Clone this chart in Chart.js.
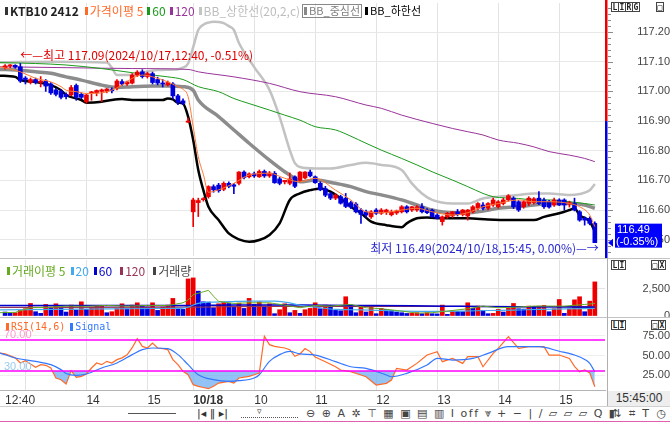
<!DOCTYPE html>
<html><head><meta charset="utf-8">
<script src="https://cdn.jsdelivr.net/npm/chart.js@4.4.1/dist/chart.umd.min.js"></script>
<style>
*{box-sizing:border-box}
html,body{margin:0;padding:0;background:#fff;}
#wrap{position:relative;width:670px;height:422px;overflow:hidden;background:#fff;font-family:"Noto Sans CJK KR","Noto Sans",sans-serif;}
.cv{position:absolute;left:0;width:670px;}
.abs{position:absolute;white-space:nowrap;}
.lg{position:absolute;white-space:nowrap;font-size:11px;line-height:13px;height:13px;display:flex;align-items:center;}
.mk{display:inline-block;width:3px;height:8px;margin-right:2px;margin-left:4px;}
.btn{position:absolute;font:bold 8px "DejaVu Sans Mono",monospace;color:#222;display:flex;}
.btn span{border:1px solid #444;width:8px;height:10px;line-height:9px;text-align:center;margin-right:-1px;background:#fff}
.hl{position:absolute;left:0;width:670px;height:1px;background:#c4c4c4;}
</style></head><body>
<div id="wrap">
<div class="cv" style="top:0;height:258px"><canvas id="cMain"></canvas></div>
<div class="cv" style="top:258px;height:60px"><canvas id="cVol"></canvas></div>
<div class="cv" style="top:318px;height:88px"><canvas id="cRsi"></canvas></div>

<div class="hl" style="top:258px"></div>
<div class="hl" style="top:317px"></div>
<div class="hl" style="top:406px;background:#d0d0d0"></div>
<div class="abs" style="left:607px;top:258px;width:1px;height:148px;background:#b0b0b0"></div>
<div class="abs" style="left:608px;top:391px;width:62px;height:15px;background:#eeeeee;font:12px 'Liberation Sans',sans-serif;color:#333;text-align:center;line-height:15px">15:45:00</div>

<!-- top legend -->
<div class="lg" style="left:1px;top:4px;font-size:12px">
 <i class="mk" style="background:#333"></i><b style="color:#222;font-weight:600">KTB10 2412</b>
 <i class="mk" style="background:#ff6a2a;margin-left:6px"></i><span style="color:#ff6a2a">가격이평 5</span>
 <i class="mk" style="background:#1a9a1a"></i><span style="color:#1a9a1a">60</span>
 <i class="mk" style="background:#993399"></i><span style="color:#993399">120</span>
 <i class="mk" style="background:#c4c4c4"></i><span style="color:#bdbdbd">BB_상한선(20,2,c)</span>
 <span style="border:1px solid #888;margin-left:2px;padding:0 1px 0 0;display:flex;align-items:center;height:14px;font-size:11px"><i class="mk" style="background:#888;margin-left:1px"></i><span style="color:#808080">BB_중심선</span></span>
 <i class="mk" style="background:#000;margin-left:3px"></i><span style="color:#000;font-size:11px">BB_하한선</span>
</div>
<div class="btn" style="left:611px;top:2px"><span>L</span><span>I</span><span>R</span><span>G</span></div>
<div class="btn" style="left:656px;top:2px"><span>□</span></div>

<!-- volume legend -->
<div class="lg" style="left:3px;top:264px;font-size:12px">
 <i class="mk" style="background:#66aa22"></i><span style="color:#66aa22">거래이평 5</span>
 <i class="mk" style="background:#44aaee;margin-left:5px"></i><span style="color:#44aaee">20</span>
 <i class="mk" style="background:#0000cc;margin-left:5px"></i><span style="color:#0000cc">60</span>
 <i class="mk" style="background:#993355;margin-left:8px"></i><span style="color:#993355">120</span>
 <i class="mk" style="background:#444;margin-left:8px"></i><span style="color:#444">거래량</span>
</div>
<div class="btn" style="left:611px;top:260px"><span>L</span><span>I</span></div>
<div class="btn" style="left:651px;top:260px"><span>□</span><span>X</span></div>

<!-- rsi legend -->
<div class="lg" style="left:2px;top:320px;font:10px 'DejaVu Sans Mono',monospace">
 <i class="mk" style="background:#ff6a2a"></i><span style="color:#ff6a2a">RSI(14,6)</span>
 <i class="mk" style="background:#3377ff;margin-left:5px"></i><span style="color:#3377ff">Signal</span>
</div>
<div class="abs" style="left:4px;top:328px;font:11px 'Liberation Sans',sans-serif;color:#ff99cc">70.00</div>
<div class="abs" style="left:4px;top:360px;font:11px 'Liberation Sans',sans-serif;color:#99ccee">30.00</div>
<div class="btn" style="left:611px;top:320px"><span>L</span><span>I</span></div>
<div class="btn" style="left:651px;top:320px"><span>□</span><span>X</span></div>

<!-- toolbar -->
<div class="abs" style="left:128px;top:413px;width:48px;height:1px;background:#555"></div>
<div class="abs" style="left:197px;top:406px;font:11px 'DejaVu Sans',sans-serif;color:#333;line-height:15px">|◂ ‖ ▸|</div>
<div class="abs" style="left:241px;top:409px;width:57px;height:9px;border-bottom:1px dotted #555"></div>
<div class="abs" style="left:257px;top:406px;font:9px 'DejaVu Sans',sans-serif;color:#333">▿</div>
<div class="abs" style="left:306px;top:406px;font:11px 'DejaVu Sans',sans-serif;color:#444;line-height:15px;letter-spacing:1.5px">⊖ ⊕ A ✲ ⊤ ▦ ▣ ▤ ▥ I off ⩔ + − | / ▱ ▱ ▱ Q ▮</div>
<div class="abs" style="left:612px;top:406px;font:11px 'DejaVu Sans',sans-serif;color:#444;line-height:15px;letter-spacing:2px">⇅ ⌗ T ◷</div>
<div class="abs" style="left:0;top:421px;width:670px;height:1px;background:#e060b0"></div>
</div>

<script>
// ---------- axis / label data ----------
const priceTicks = [116.50,116.60,116.70,116.80,116.90,117.00,117.10,117.20];
const volTicks = [0, 2500];
const rsiTicks = [25, 50, 75];
const rsiLevels = [70, 30];
const tickIdx = [0,4,16,28,37,49,61,73,85,97,109];
const tickLabels = ['12:40','','14','15','10/18','10','11','12','13','14','15'];
const prevClose = 116.90;
const lastChange = '-0.35%';
const hiText = ['2024/10/17,12:40', '-0.51%'];
const loText = ['2024/10/18,15:45', '0.00%'];

// ---------- candles (5-minute bars) ----------
const open = [117.080,117.086,117.088,117.083,117.045,117.030,117.040,117.030,117.035,117.025,117.005,117.000,116.990,116.988,117.020,116.990,116.965,116.995,116.995,117.000,117.000,117.006,117.012,117.033,117.025,117.028,117.055,117.066,117.050,117.060,117.040,117.028,117.022,117.025,116.985,116.968,116.896,
116.594,116.625,116.635,116.645,116.679,116.684,116.670,116.690,116.685,116.690,116.728,116.712,116.722,116.712,116.730,116.715,116.724,116.705,116.695,116.690,116.712,116.700,116.708,116.728,116.712,116.690,116.672,116.655,116.640,116.645,116.640,116.625,116.620,116.600,116.594,116.577,116.600,116.589,116.592,116.584,116.590,116.594,116.611,116.600,116.600,116.611,116.600,116.600,116.583,116.561,116.577,116.580,116.594,116.585,116.580,116.594,116.606,116.617,116.606,116.617,116.611,116.622,116.634,116.640,116.628,116.611,116.622,116.625,116.640,116.634,116.628,116.617,116.634,116.634,116.620,116.622,116.594,116.572,116.572,116.555];
const high = [117.090,117.090,117.090,117.094,117.050,117.045,117.045,117.050,117.040,117.030,117.010,117.005,116.995,117.020,117.025,116.995,116.990,117.000,117.005,117.008,117.010,117.012,117.040,117.040,117.035,117.060,117.070,117.073,117.065,117.065,117.048,117.040,117.035,117.030,116.990,116.975,116.910,
116.640,116.640,116.642,116.682,116.685,116.690,116.695,116.695,116.690,116.730,116.732,116.725,116.728,116.735,116.735,116.730,116.730,116.710,116.700,116.725,116.715,116.730,116.730,116.735,116.715,116.695,116.680,116.660,116.655,116.650,116.656,116.630,116.625,116.605,116.600,116.598,116.605,116.605,116.603,116.600,116.600,116.615,116.615,116.612,116.615,116.622,116.605,116.603,116.588,116.580,116.592,116.595,116.602,116.602,116.602,116.615,116.625,116.625,116.625,116.640,116.632,116.640,116.652,116.645,116.632,116.632,116.645,116.642,116.662,116.640,116.633,116.640,116.638,116.638,116.630,116.640,116.598,116.577,116.577,116.560];
const low = [117.075,117.080,117.078,117.030,117.025,117.025,117.025,117.015,117.000,116.990,116.985,116.975,116.975,116.985,116.970,116.975,116.960,116.970,116.985,116.965,116.995,116.995,117.005,117.020,117.020,117.025,117.050,117.045,117.045,117.025,117.022,117.015,117.018,116.975,116.955,116.955,116.895,
116.544,116.578,116.630,116.640,116.660,116.660,116.665,116.675,116.655,116.685,116.705,116.708,116.710,116.710,116.710,116.710,116.690,116.685,116.688,116.685,116.675,116.695,116.705,116.712,116.690,116.665,116.645,116.635,116.635,116.620,116.608,116.605,116.590,116.555,116.575,116.572,116.585,116.585,116.585,116.580,116.585,116.590,116.590,116.595,116.595,116.590,116.588,116.575,116.570,116.549,116.572,116.575,116.580,116.580,116.566,116.590,116.600,116.600,116.600,116.612,116.606,116.617,116.630,116.605,116.595,116.606,116.615,116.620,116.618,116.605,116.606,116.612,116.615,116.600,116.610,116.597,116.562,116.549,116.550,116.490];
const close = [117.086,117.088,117.082,117.035,117.040,117.040,117.030,117.035,117.018,116.995,116.990,116.980,116.982,117.013,116.980,116.980,116.988,116.998,117.003,117.005,117.008,117.002,117.035,117.025,117.032,117.055,117.065,117.050,117.060,117.030,117.028,117.025,117.030,116.985,116.963,116.960,116.900,
116.634,116.632,116.638,116.679,116.668,116.665,116.690,116.680,116.680,116.728,116.710,116.722,116.715,116.730,116.715,116.725,116.692,116.690,116.700,116.705,116.680,116.728,116.728,116.715,116.692,116.668,116.650,116.640,116.650,116.623,116.612,116.610,116.594,116.585,116.583,116.594,116.589,116.600,116.600,116.594,116.597,116.611,116.594,116.611,116.611,116.594,116.591,116.577,116.572,116.577,116.589,116.594,116.585,116.600,116.600,116.611,116.622,116.606,116.622,116.634,116.628,116.634,116.648,116.611,116.600,116.628,116.640,116.638,116.622,116.611,116.610,116.634,116.617,116.617,116.625,116.600,116.566,116.566,116.555,116.490];
const volume = [360,240,300,510,660,1140,390,240,1050,810,1110,840,360,990,540,1290,600,810,900,960,300,390,690,1110,660,990,1200,960,810,1200,510,810,990,1600,660,600,3370,
3460,2260,1290,1260,750,1110,1230,1140,900,1170,690,1600,1050,1290,900,1110,210,570,1110,300,510,240,570,690,1200,660,990,840,510,480,1750,990,300,810,360,900,210,690,600,510,360,300,230,260,300,210,300,210,190,990,150,450,420,400,1200,690,900,510,210,240,600,360,690,1140,660,630,900,870,900,960,390,660,1500,240,660,1470,1750,390,1350,3100];

// ---------- price overlays (bar index, value) ----------
const ma5X = [-1,3,6,9,11,12,14,16,19,21,23,25,27,29,32,34,35,36,37,38,39,40,42,45,48,52,55,58,61,65,68,71,74,78,81,84,88,91,94,97,101,104,107,111,113,115,116];
const ma5Y = [117.083,117.066,117.044,117.032,117.016,117.004,116.999,116.993,116.995,117.004,117.021,117.044,117.055,117.049,117.032,117.016,117.007,116.982,116.881,116.780,116.720,116.660,116.668,116.690,116.718,116.724,116.707,116.695,116.707,116.667,116.634,116.594,116.591,116.600,116.606,116.594,116.583,116.591,116.611,116.622,116.634,116.628,116.628,116.622,116.611,116.583,116.544];
const ma60X = [-1,6,12,19,25,32,35,38,42,45,48,52,55,58,61,65,68,71,74,78,81,84,88,91,94,96,101,104,107,111,114,116];
const ma60Y = [117.097,117.094,117.089,117.077,117.063,117.049,117.040,117.016,116.999,116.976,116.959,116.937,116.920,116.903,116.881,116.870,116.849,116.825,116.802,116.774,116.752,116.729,116.701,116.679,116.656,116.645,116.639,116.634,116.634,116.628,116.622,116.617];
const ma120X = [-1,12,25,36,38,45,52,58,65,71,74,78,84,88,91,94,97,101,104,107,111,114,116];
const ma120Y = [117.083,117.080,117.077,117.074,117.066,117.049,117.027,116.999,116.982,116.954,116.943,116.920,116.892,116.875,116.864,116.853,116.836,116.825,116.813,116.797,116.785,116.774,116.763];
const bbUpX = [-1,10,20,21,22,25,26,30,34,35,36,37,38,39,40,41,42,43,44,45,46,49,52,54,56,57,58,61,64,68,71,74,78,80,82,84,88,91,94,97,101,104,107,111,113,115,116];
const bbUpY = [117.098,117.100,117.097,117.080,117.055,117.055,117.060,117.072,117.075,117.080,117.094,117.149,117.207,117.225,117.232,117.235,117.234,117.230,117.220,117.207,117.163,117.082,117.005,116.914,116.802,116.758,116.745,116.740,116.740,116.752,116.759,116.752,116.735,116.690,116.656,116.634,116.622,116.622,116.639,116.645,116.651,116.656,116.656,116.651,116.654,116.667,116.688];
const bbMidX = [-1,2,6,9,12,15,19,22,25,29,32,35,37,38,42,45,48,52,55,57,58,61,65,68,71,74,78,81,84,88,91,94,97,101,104,107,111,114,116];
const bbMidY = [117.074,117.072,117.066,117.061,117.049,117.038,117.021,117.013,117.016,117.018,117.018,117.016,117.004,116.971,116.915,116.870,116.825,116.768,116.729,116.707,116.695,116.701,116.690,116.679,116.662,116.651,116.634,116.617,116.600,116.591,116.591,116.597,116.606,116.611,116.617,116.622,116.622,116.617,116.606];
const bbLowX = [-1,2,3,6,9,11,12,15,16,19,21,23,25,29,31,32,33,34,35,36,37,38,39,40,42,44,46,48,50,52,54,56,58,60,62,64,66,68,70,72,75,78,79,81,83,86,91,95,99,104,106,109,111,112,113,115,116];
const bbLowY = [117.053,117.049,117.038,117.032,117.021,117.004,116.988,116.971,116.962,116.965,116.971,116.974,116.971,116.971,116.971,116.976,116.973,116.962,116.959,116.915,116.836,116.735,116.667,116.611,116.566,116.521,116.501,116.493,116.499,116.516,116.555,116.634,116.656,116.667,116.673,116.662,116.639,116.611,116.589,116.561,116.549,116.542,116.555,116.572,116.575,116.572,116.572,116.568,116.566,116.566,116.577,116.589,116.600,116.606,116.583,116.561,116.527];

// ---------- volume averages ----------
const vma5X = [-1,2,5,9,12,16,20,24,28,32,35,36,37,38,39,40,41,42,45,48,52,55,58,61,64,68,71,74,78,81,84,87,91,94,97,101,104,107,110,114,116];
const vma5Y = [300,330,750,800,900,880,960,900,960,950,1200,1450,1940,2070,2200,2330,1800,1330,1140,1200,1200,990,750,960,900,1050,750,660,450,260,300,450,660,900,750,810,900,900,900,1050,1140];
const vma20X = [-1,15,30,35,36,37,38,40,44,48,53,56,58,61,65,70,78,85,90,95,100,105,110,116];
const vma20Y = [560,620,680,720,800,1000,1150,1260,1300,1350,1350,1200,960,810,600,560,450,420,450,500,540,600,640,700];
const vma60X = [-1,36,45,58,70,80,90,100,116];
const vma60Y = [960,960,1000,990,960,930,880,830,800];
const vma120X = [-1,36,50,80,116];
const vma120Y = [780,800,880,880,850];

// ---------- RSI ----------
const rsiX = [-1,0,2,3,4,5,6,7,8,9,10,11,12,13,14,15,16,17,18,19,20,21,22,23,24,25,26,27,28,29,30,31,32,33,34,35,36,37,38,39,40,41,42,44,45,46,48,49,50,51,52,53,55,56,57,58,59,60,61,63,65,66,68,70,71,73,75,76,77,79,81,83,85,86,88,90,91,93,94,96,97,99,101,103,106,107,109,111,112,113,114,115,116];
const rsiY = [53.2,52,47,40.4,43.4,39.1,34.8,38.3,37.4,34,21.2,19,13.5,30.6,22,23.3,26.3,34,40.4,38.3,42.5,40.4,44.7,47,51,60,71.6,61.7,59.6,66,59.6,58.8,57.5,44.7,38.3,29.7,25.4,12.6,10.5,9,7.5,10.5,14.7,16.9,14.7,21.2,23.3,25.4,27.6,74.6,63.9,61.7,59.6,57.5,49,52,59,55,48,42,35.6,31.4,29.3,25,22.8,12.2,14.3,18.6,33.5,31.4,39.9,50.6,54.9,42.1,46.3,39.9,48.5,48.5,35.6,52.8,59.2,74.1,59.2,61.3,61.3,50.6,50.6,46.3,36,29,31.4,27.6,10];
const sigX = [-1,2,6,9,11,12,14,16,19,22,25,27,29,32,34,36,38,41,44,46,49,50,52,54,56,58,61,65,68,71,75,76,79,83,85,88,92,95,99,105,109,112,114,115,116];
const sigY = [53.2,46.8,42.5,38.3,31.9,27,24.6,26.3,34,40.4,51.1,57.5,59.6,58.8,51.1,38.3,25.4,19,16.9,17.7,21.2,25.4,42.5,51.1,55.3,52,50.6,42.1,35.6,33.5,25,22.8,27.1,37.8,46.3,44.2,46.3,52.8,61.3,61.3,55.5,50.6,45,40,29];

// ---------- chart construction ----------
const UP = '#ee0000', DOWN = '#0000dd';
Chart.defaults.font.family = '"Liberation Sans", Arial, sans-serif';
Chart.defaults.animation = false;
Chart.defaults.plugins.legend.display = false;
Chart.defaults.plugins.tooltip.enabled = false;
Chart.defaults.elements.point.radius = 0;

const pts = (xs, ys) => xs.map((x, i) => ({x, y: ys[i]}));
const lineDs = (xs, ys, color, width, order, extra) => Object.assign({
  type: 'line', data: pts(xs, ys), borderColor: color, borderWidth: width,
  pointRadius: 0, fill: false, order, cubicInterpolationMode: 'monotone'
}, extra || {});
const flatDs = (v, color, order) => ({type:'line', data:[{x:-1,y:v},{x:118,y:v}], borderColor: color, borderWidth: 1.5, pointRadius:0, fill:false, order});
const noPad = s => { s.paddingTop = 0; s.paddingBottom = 0; s.paddingLeft = 0; s.paddingRight = 0; };

function xScale(showLabels) {
  return {
    type: 'linear', min: -1, max: 118, offset: false,
    afterBuildTicks: s => { s.ticks = tickIdx.map(v => ({value: v})); },
    afterFit: s => { s.height = showLabels ? 16 : 0; noPad(s); },
    grid: { offset: false, drawTicks: false,
      color: c => (c.tick && c.tick.value === tickIdx[0]) ? 'rgba(0,0,0,0)' : '#e3e3e3' },
    border: { display: showLabels, color: '#b4b4b4' },
    ticks: { display: showLabels, autoSkip: false, maxRotation: 0, align: 'start', padding: 3, color: '#333',
      font: c => ({ size: 12, weight: (c.tick && tickLabels[tickIdx.indexOf(c.tick.value)] === '10/18') ? 'bold' : 'normal' }),
      callback: v => { const k = tickIdx.indexOf(v); return k >= 0 ? tickLabels[k] : ''; } }
  };
}
function yScale(min, max, ticks, fmt, padding, gridColor) {
  return {
    position: 'right', min, max,
    afterBuildTicks: s => { s.ticks = ticks.map(v => ({value: v})); },
    afterFit: s => { s.width = 65; noPad(s); },
    grid: { color: gridColor, drawTicks: false },
    border: { display: false },
    ticks: { padding, crossAlign: 'far', color: '#444', font: { size: 11 }, callback: fmt }
  };
}

// main chart decorations
const mainDecor = {
  id: 'mainDecor',
  afterDatasetsDraw(chart) {
    const {ctx, chartArea: a, scales: {x, y}} = chart;
    ctx.save();
    const yp = y.getPixelForValue(prevClose);
    ctx.fillStyle = UP; ctx.fillRect(a.right, 0, 2.5, yp);
    ctx.fillStyle = DOWN; ctx.fillRect(a.right, yp, 2.5, chart.height - yp);
    ctx.strokeStyle = '#8a8a8a'; ctx.lineWidth = 1;
    for (let k = Math.ceil(y.min * 50); k <= Math.floor(y.max * 50); k++) {
      const py = Math.round(y.getPixelForValue(k / 50)) + 0.5;
      const len = (k % 5 === 0) ? 5 : 3;
      ctx.beginPath(); ctx.moveTo(a.right + 3, py); ctx.lineTo(a.right + 3 + len, py); ctx.stroke();
    }
    const hiVal = Math.max(...high), hiIdx = high.indexOf(hiVal);
    const loVal = Math.min(...low), loIdx = low.indexOf(loVal);
    ctx.font = '12px "Noto Sans CJK KR"';
    ctx.textBaseline = 'middle';
    ctx.fillStyle = '#e00000'; ctx.textAlign = 'left';
    ctx.fillText('←—최고 ' + hiVal.toFixed(2) + '(' + hiText[0] + ', ' + hiText[1] + ')', x.getPixelForValue(hiIdx), y.getPixelForValue(hiVal) - 8);
    ctx.fillStyle = '#2a2ad0'; ctx.textAlign = 'right';
    ctx.fillText('최저 ' + loVal.toFixed(2) + '(' + loText[0] + ', ' + loText[1] + ')—→', x.getPixelForValue(loIdx) + 4, y.getPixelForValue(loVal) + 6);
    const last = close[close.length - 1];
    const ly = y.getPixelForValue(last);
    ctx.fillStyle = '#0000ff';
    ctx.beginPath(); ctx.moveTo(a.right + 3, ly); ctx.lineTo(a.right + 8, ly - 4); ctx.lineTo(a.right + 8, ly + 4); ctx.closePath(); ctx.fill();
    ctx.fillRect(a.right + 10, ly - 19, 47, 24);
    ctx.fillStyle = '#fff'; ctx.textAlign = 'left';
    ctx.font = '11px "Liberation Sans"';
    ctx.fillText(last.toFixed(2), a.right + 12, ly - 13);
    ctx.fillText('(' + lastChange + ')', a.right + 11, ly - 1);
    ctx.restore();
  }
};

const bodyColors = close.map((c, i) => c >= open[i] ? UP : DOWN);
new Chart(document.getElementById('cMain'), {
  type: 'bar',
  data: { datasets: [
    lineDs(bbUpX, bbUpY, '#c2c2c2', 2.5, 20),
    lineDs(bbMidX, bbMidY, '#8c8c8c', 3.5, 19),
    lineDs(bbLowX, bbLowY, '#000000', 2.5, 18),
    lineDs(ma120X, ma120Y, '#993399', 1, 17),
    lineDs(ma60X, ma60Y, '#1a9a1a', 1, 16),
    { type: 'bar', data: high.map((h, i) => ({x: i, y: [low[i], h]})), backgroundColor: bodyColors, barThickness: 1, grouped: false, order: 10, minBarLength: 1 },
    { type: 'bar', data: open.map((o, i) => ({x: i, y: [o, close[i]]})), backgroundColor: bodyColors, barThickness: 4, grouped: false, order: 9, minBarLength: 1 },
    lineDs(ma5X, ma5Y, '#ff7733', 1, 5)
  ]},
  options: {
    responsive: true, maintainAspectRatio: false,
    layout: { padding: { top: 3, bottom: 2, left: 0, right: 0 } },
    scales: {
      x: xScale(false),
      y: yScale(116.445, 117.298, priceTicks, v => v.toFixed(2), 12, '#e8e8e8')
    }
  },
  plugins: [mainDecor]
});

const volColors = volume.map((v, i) => (i > 0 && v > volume[i - 1]) ? UP : DOWN);
new Chart(document.getElementById('cVol'), {
  type: 'bar',
  data: { datasets: [
    { type: 'bar', data: volume.map((v, i) => ({x: i, y: v})), backgroundColor: volColors, barThickness: 4, grouped: false, order: 10 },
    lineDs(vma120X, vma120Y, '#993355', 1.2, 4),
    lineDs(vma60X, vma60Y, '#0000cc', 1.5, 3),
    lineDs(vma20X, vma20Y, '#44aaee', 1.2, 2),
    lineDs(vma5X, vma5Y, '#66aa22', 1, 1, {cubicInterpolationMode: 'default', tension: 0})
  ]},
  options: {
    responsive: true, maintainAspectRatio: false,
    layout: { padding: { top: 2, bottom: 2, left: 0, right: 0 } },
    scales: {
      x: xScale(false),
      y: yScale(0, 5090, volTicks, v => v.toLocaleString('en-US'), 17.5, c => (c.tick && c.tick.value === 0) ? 'rgba(0,0,0,0)' : '#e3e3e3')
    }
  }
});

new Chart(document.getElementById('cRsi'), {
  type: 'line',
  data: { datasets: [
    lineDs(rsiX, rsiY, '#ff6a2a', 1.2, 3, { cubicInterpolationMode: 'default', tension: 0,
      fill: { value: rsiLevels[1], above: 'rgba(0,0,0,0)', below: 'rgba(110,175,240,0.75)' } }),
    lineDs(sigX, sigY, '#3377ff', 1.2, 2),
    flatDs(rsiLevels[0], '#ff00ff', 1),
    flatDs(rsiLevels[1], '#ff00ff', 1)
  ]},
  options: {
    responsive: true, maintainAspectRatio: false,
    layout: { padding: { top: 2, bottom: 0, left: 0, right: 0 } },
    scales: {
      x: xScale(true),
      y: yScale(5.8, 95.5, rsiTicks, v => v.toFixed(2), 13.5, '#efefef')
    }
  }
});
</script>
</body></html>
